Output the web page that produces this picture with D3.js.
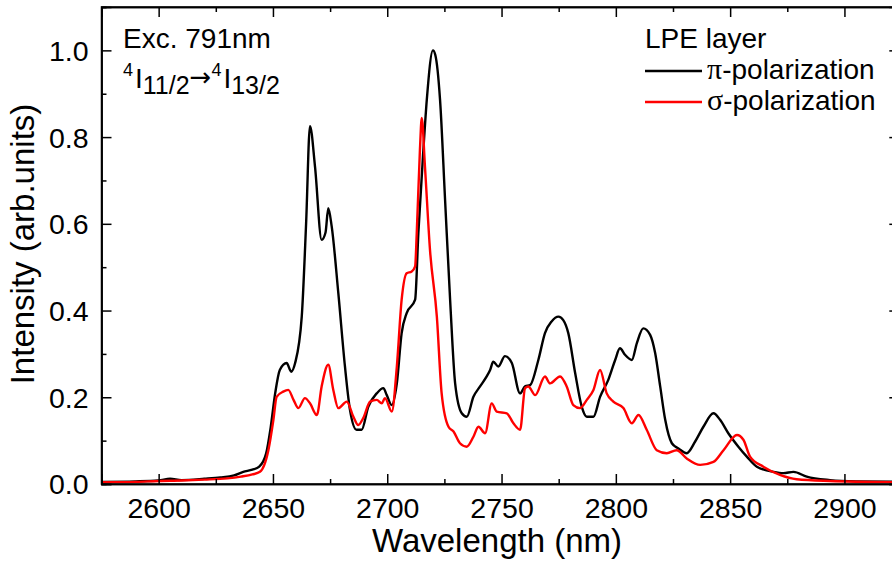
<!DOCTYPE html>
<html><head><meta charset="utf-8">
<script src="https://cdn.jsdelivr.net/npm/d3@7"></script>
<style>body{margin:0;background:#fff}svg{display:block}text{font-family:"Liberation Sans",Arial,sans-serif;fill:#000}</style>
</head><body><svg id="c" width="892" height="561"></svg>
<script>
const piWavelength=[2575,2590,2600,2605,2610,2620,2627,2633,2637,2641,2644,2647,2649,2651,2653,2656,2658,2659.7,2662.6,2664.5,2666.2,2668.4,2671.3,2673,2674.2,2675.7,2678.6,2681.5,2683.7,2686.6,2688.8,2691.7,2695.4,2698.3,2699.8,2701.9,2704.2,2706.3,2708.5,2712.2,2713.6,2715.8,2717.3,2720,2721,2723.1,2725.3,2727.5,2729.7,2732.6,2734.8,2737.7,2740.6,2743.5,2745,2746.4,2748.6,2751.5,2754.5,2758.1,2760.3,2762.5,2766.1,2769,2771.9,2774.9,2777,2779.2,2782.2,2785.1,2787.3,2790.2,2793.1,2796.7,2799.7,2801.8,2804,2807,2809.2,2812,2815,2817.2,2819.4,2821.6,2824.5,2827.4,2831,2834.7,2838.3,2842.7,2845.6,2849.2,2853.6,2857.3,2861.7,2869,2873.3,2877.7,2883.5,2893.7,2905,2925];
const piIntensity=[0.005,0.006,0.008,0.012,0.009,0.012,0.015,0.02,0.028,0.033,0.04,0.07,0.13,0.21,0.263,0.279,0.259,0.279,0.386,0.6,0.825,0.732,0.563,0.58,0.636,0.594,0.44,0.271,0.171,0.125,0.125,0.178,0.209,0.221,0.205,0.182,0.232,0.348,0.394,0.425,0.578,0.77,0.886,1.0,0.99,0.886,0.655,0.425,0.232,0.163,0.155,0.201,0.225,0.248,0.263,0.282,0.271,0.295,0.279,0.209,0.225,0.228,0.286,0.348,0.375,0.386,0.378,0.348,0.256,0.178,0.155,0.155,0.201,0.24,0.286,0.313,0.298,0.286,0.325,0.359,0.344,0.302,0.225,0.148,0.094,0.082,0.071,0.098,0.132,0.163,0.148,0.117,0.086,0.063,0.04,0.028,0.025,0.028,0.017,0.009,0.006,0.005];
const sigmaWavelength=[2575,2590,2600,2610,2620,2630,2636,2641,2644.3,2648,2650.2,2651.6,2654.5,2656.7,2659,2661.1,2664,2666.2,2669.2,2671.3,2674.2,2676.4,2678.6,2682.3,2685.2,2687.3,2689.5,2692.5,2695.4,2697.6,2699,2702,2704.2,2706.3,2708.5,2710.7,2712.2,2712.9,2714.3,2715.1,2716.5,2718.7,2721.7,2723.8,2726.8,2729,2731.8,2734.8,2737.7,2739.9,2742.8,2745.7,2747.9,2752.3,2755.2,2758.1,2760.3,2761.7,2764.7,2769,2771.2,2775.6,2778.5,2781.4,2784.3,2787.3,2790.2,2793.1,2796,2798.9,2803.3,2807,2809.9,2813.5,2817.9,2822.3,2826.6,2831,2836.9,2842.7,2847.1,2853,2855.8,2858.7,2864.5,2871.8,2879.1,2893.7,2925];
const sigmaIntensity=[0.004,0.005,0.007,0.008,0.01,0.013,0.017,0.022,0.028,0.078,0.148,0.201,0.213,0.217,0.194,0.175,0.198,0.186,0.159,0.225,0.275,0.217,0.175,0.19,0.155,0.136,0.152,0.19,0.194,0.186,0.198,0.167,0.271,0.425,0.486,0.49,0.502,0.578,0.771,0.844,0.732,0.54,0.386,0.209,0.132,0.121,0.094,0.086,0.109,0.132,0.117,0.186,0.167,0.163,0.14,0.125,0.221,0.225,0.205,0.248,0.232,0.248,0.225,0.182,0.175,0.194,0.217,0.263,0.209,0.19,0.175,0.14,0.159,0.125,0.078,0.071,0.078,0.059,0.044,0.051,0.078,0.113,0.102,0.063,0.04,0.021,0.011,0.007,0.004];
const xMajorTicks=[2600,2650,2700,2750,2800,2850,2900];
const xMinorTicks=[2575,2625,2675,2725,2775,2825,2875,2925];
const yMajorTicks=[0,0.2,0.4,0.6,0.8,1.0];
const yMinorTicks=[0.1,0.3,0.5,0.7,0.9,1.1];
const legendTitle="LPE layer";
const seriesNames=["-polarization","-polarization"];
const seriesGreek=["π","σ"];
const seriesColors=["#000000","#ff0000"];

const svg=d3.select("#c");
svg.append("rect").attr("width",892).attr("height",561).attr("fill","#fff");
const L=101.5,R=899.3,T=7,B=484;
const x=d3.scaleLinear().domain([2575,2924]).range([L,R]);
const y=d3.scaleLinear().domain([0,1.1]).range([B,T]);

svg.append("defs").append("clipPath").attr("id","clip").append("rect").attr("x",L).attr("y",T).attr("width",R-L).attr("height",B-T);

const line=d3.line().x(d=>x(d[0])).y(d=>y(d[1])).curve(d3.curveMonotoneX);
const piData=piWavelength.map((w,i)=>[w,piIntensity[i]]);
const sigmaData=sigmaWavelength.map((w,i)=>[w,sigmaIntensity[i]]);
const g=svg.append("g").attr("clip-path","url(#clip)");
g.append("path").datum(piData).attr("d",line).attr("fill","none").attr("stroke",seriesColors[0]).attr("stroke-width",2.4).attr("stroke-linejoin","round");
g.append("path").datum(sigmaData).attr("d",line).attr("fill","none").attr("stroke",seriesColors[1]).attr("stroke-width",2.4).attr("stroke-linejoin","round");

// axes
const fs=28.5;
const xb=svg.append("g").attr("transform",`translate(0,${B})`).call(d3.axisBottom(x).tickValues(xMajorTicks).tickSize(-10).tickPadding(0).tickFormat(d3.format("d")));
xb.selectAll("text").attr("y",14).attr("font-size",fs).attr("font-family","Liberation Sans, Arial");
svg.append("g").attr("transform",`translate(0,${B})`).call(d3.axisBottom(x).tickValues(xMinorTicks).tickSize(-5).tickFormat(""));
svg.append("g").attr("transform",`translate(0,${T})`).call(d3.axisTop(x).tickValues(xMajorTicks).tickSize(-10).tickFormat(""));
svg.append("g").attr("transform",`translate(0,${T})`).call(d3.axisTop(x).tickValues(xMinorTicks).tickSize(-5).tickFormat(""));
const yl=svg.append("g").attr("transform",`translate(${L},0)`).call(d3.axisLeft(y).tickValues(yMajorTicks).tickSize(-10).tickPadding(13).tickFormat(d3.format(".1f")));
yl.selectAll("text").attr("font-size",fs).attr("font-family","Liberation Sans, Arial").attr("dy","0.35em");
svg.append("g").attr("transform",`translate(${L},0)`).call(d3.axisLeft(y).tickValues(yMinorTicks).tickSize(-5).tickFormat(""));
svg.append("g").attr("transform",`translate(${R},0)`).call(d3.axisRight(y).tickValues(yMajorTicks).tickSize(-10).tickFormat(""));
svg.append("g").attr("transform",`translate(${R},0)`).call(d3.axisRight(y).tickValues(yMinorTicks).tickSize(-5).tickFormat(""));
svg.selectAll(".domain").attr("stroke","#000").attr("stroke-width",1.5);
svg.selectAll(".tick line").attr("stroke","#000").attr("stroke-width",1.5);
svg.append("rect").attr("x",L).attr("y",T).attr("width",R-L).attr("height",B-T).attr("fill","none").attr("stroke","#000").attr("stroke-width",1.5);

// titles
svg.append("text").attr("x",497).attr("y",552).attr("text-anchor","middle").attr("font-size",33).text("Wavelength (nm)");
svg.append("text").attr("transform","translate(34,244) rotate(-90)").attr("text-anchor","middle").attr("font-size",33).text("Intensity (arb.units)");

// annotation
svg.append("text").attr("x",123).attr("y",48).attr("font-size",28).text("Exc. 791nm");
const ann=svg.append("text").attr("x",123).attr("y",88).attr("font-size",28);
ann.append("tspan").attr("font-size",18).attr("dy",-12).text("4");
ann.append("tspan").attr("dy",12).attr("dx",2).text("I");
ann.append("tspan").attr("font-size",25).attr("dy",6).text("11/2");
ann.append("tspan").attr("font-size",26).attr("dy",-8).attr("font-family","DejaVu Sans").text("→");
ann.append("tspan").attr("font-size",18).attr("dy",-10).text("4");
ann.append("tspan").attr("dy",12).attr("dx",2).text("I");
ann.append("tspan").attr("font-size",25).attr("dy",6).text("13/2");

// legend
svg.append("text").attr("x",645).attr("y",48).attr("font-size",28).text(legendTitle);
[0,1].forEach(i=>{
  const yy=71+i*31;
  svg.append("line").attr("x1",645).attr("x2",702).attr("y1",yy).attr("y2",yy).attr("stroke",seriesColors[i]).attr("stroke-width",2.4);
  const t=svg.append("text").attr("x",707).attr("y",yy+8).attr("font-size",28);
  t.append("tspan").attr("font-family","Liberation Serif, serif").attr("font-size",30).text(seriesGreek[i]);
  t.append("tspan").text(seriesNames[i]);
});
</script></body></html>
